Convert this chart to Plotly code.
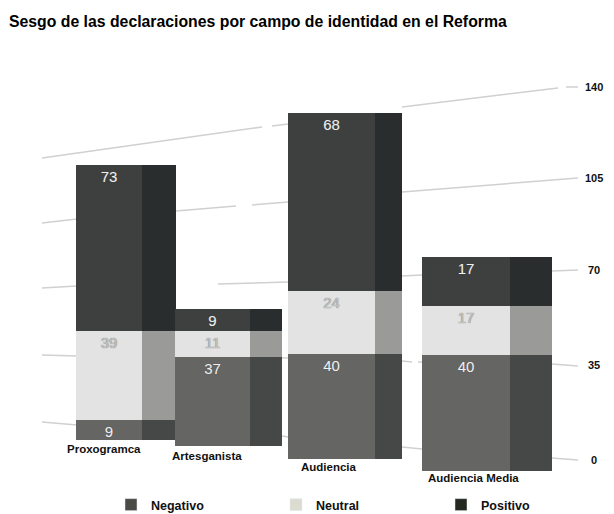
import plotly.graph_objects as go

categories = ["Proxogramca", "Artesganista", "Audiencia", "Audiencia Media"]
negativo = [9, 37, 40, 40]
neutral = [39, 11, 24, 17]
positivo = [73, 9, 68, 17]
tick_labels = ["140", "105", "70", "35", "0"]
title_text = "Sesgo de las declaraciones por campo de identidad en el Reforma"

PAGE = 8  # page margin around the figure
BOTTOM = 32  # strip under the plot area that holds the legend
W, H = 614 - PAGE, 514
PLOT_H = H - BOTTOM


def fx(px):
    return (px - PAGE) / W


def fy(py):
    return 1 - (py - PAGE) / PLOT_H


# pixel frame of each bar: front left, front right, side right, top, bottom
frames = [(76, 142, 176, 165, 440), (175, 250, 282, 309, 446), (288, 375, 402, 113, 459), (422, 510, 552, 257, 471)]
label_y = [449, 456, 467, 478]
label_x = [104, 207, 329, 473]
series = [
    ("Negativo", negativo, "#656664", "#454847", "#4a4a46", "#f0f0f0"),
    ("Neutral", neutral, "#e3e3e3", "#9a9b99", "#dcdbd0", "#c4c4c4"),
    ("Positivo", positivo, "#3d403e", "#2a2d2d", "#25281f", "#f0f0f0"),
]
tick_y = [87, 178, 270, 365, 460]

fig = go.Figure()
layout = {}
for i, (fl, fr, sr, top, bot) in enumerate(frames):
    n = "" if i == 0 else str(i + 1)
    total = negativo[i] + neutral[i] + positivo[i]
    layout[f"xaxis{n}"] = dict(domain=[fx(fl), fx(sr)], range=[fl, sr], visible=False, fixedrange=True, anchor=f"y{n}")
    layout[f"yaxis{n}"] = dict(domain=[fy(bot), fy(top)], range=[0, total], visible=False, fixedrange=True, anchor=f"x{n}")
    for name, vals, front, side, leg, txt in series:
        fig.add_trace(go.Bar(x=[(fr + sr) / 2], y=[vals[i]], width=[sr - fr], marker=dict(color=side, line_width=0),
                             xaxis=f"x{n}", yaxis=f"y{n}", showlegend=False, hoverinfo="skip"))
        fig.add_trace(go.Bar(x=[(fl + fr) / 2], y=[vals[i]], width=[fr - fl], marker=dict(color=front, line_width=0),
                             text=[str(vals[i])], textposition="inside", insidetextanchor="end", textangle=0,
                             textfont=dict(family="Liberation Sans", size=15, color=txt, shadow="0px 0px 1px #555555"),
                             constraintext="none", name=name, legendgroup=name, showlegend=False,
                             xaxis=f"x{n}", yaxis=f"y{n}"))

# legend swatches
for name, vals, front, side, leg, txt in series:
    fig.add_trace(go.Bar(x=[None], y=[None], name=name, marker_color=leg, showlegend=True))

segments = [
    (42, 158, 262, 127), (272, 126, 288, 124), (402, 107, 558, 88), (566, 87, 578, 87),
    (42, 223, 77, 219), (176, 211, 236, 206), (252, 205, 288, 202), (402, 192, 578, 178),
    (42, 288, 77, 286), (218, 284, 288, 282), (402, 276, 422, 275), (552, 271, 578, 270),
    (42, 355, 77, 356), (282, 358, 288, 358), (402, 361, 412, 362), (418, 362, 422, 362), (552, 364, 578, 366),
    (42, 422, 77, 425), (282, 436, 288, 437), (402, 447, 422, 449), (552, 458, 578, 460),
]
shapes = [dict(type="line", xref="paper", yref="paper", x0=fx(a), x1=fx(c), y0=fy(b), y1=fy(d),
               line=dict(color="#d0d0d0", width=1.5), layer="below") for a, b, c, d in segments]

annotations = [dict(text=title_text, xref="paper", yref="paper", x=fx(7), y=fy(21), xanchor="left", yanchor="middle",
                    showarrow=False, font=dict(family="Liberation Sans", size=15.8, color="#000000", weight="bold"))]
for t, y in zip(tick_labels, tick_y):
    annotations.append(dict(text=t, xref="paper", yref="paper", x=fx(594), y=fy(y), xanchor="center", yanchor="middle",
                            showarrow=False, font=dict(family="Liberation Sans", size=11, color="#111111", weight="bold")))
for c, x, y in zip(categories, label_x, label_y):
    annotations.append(dict(text=c, xref="paper", yref="paper", x=fx(x), y=fy(y), xanchor="center", yanchor="middle",
                            showarrow=False, font=dict(family="Liberation Sans", size=11.5, color="#111111", weight="bold")))

fig.update_layout(
    width=W, height=H, margin=dict(l=0, r=0, t=0, b=BOTTOM), paper_bgcolor="white", plot_bgcolor="rgba(0,0,0,0)",
    barmode="stack", bargap=0, shapes=shapes, annotations=annotations,
    legend=dict(orientation="h", x=fx(111), y=0, xanchor="left", yanchor="top", entrywidth=120,
                entrywidthmode="pixels", font=dict(family="Liberation Sans", size=12.5, color="#111111", weight="bold"),
                itemwidth=30, bgcolor="rgba(0,0,0,0)", traceorder="normal"),
    **layout,
)
fig.write_html("out.html")
